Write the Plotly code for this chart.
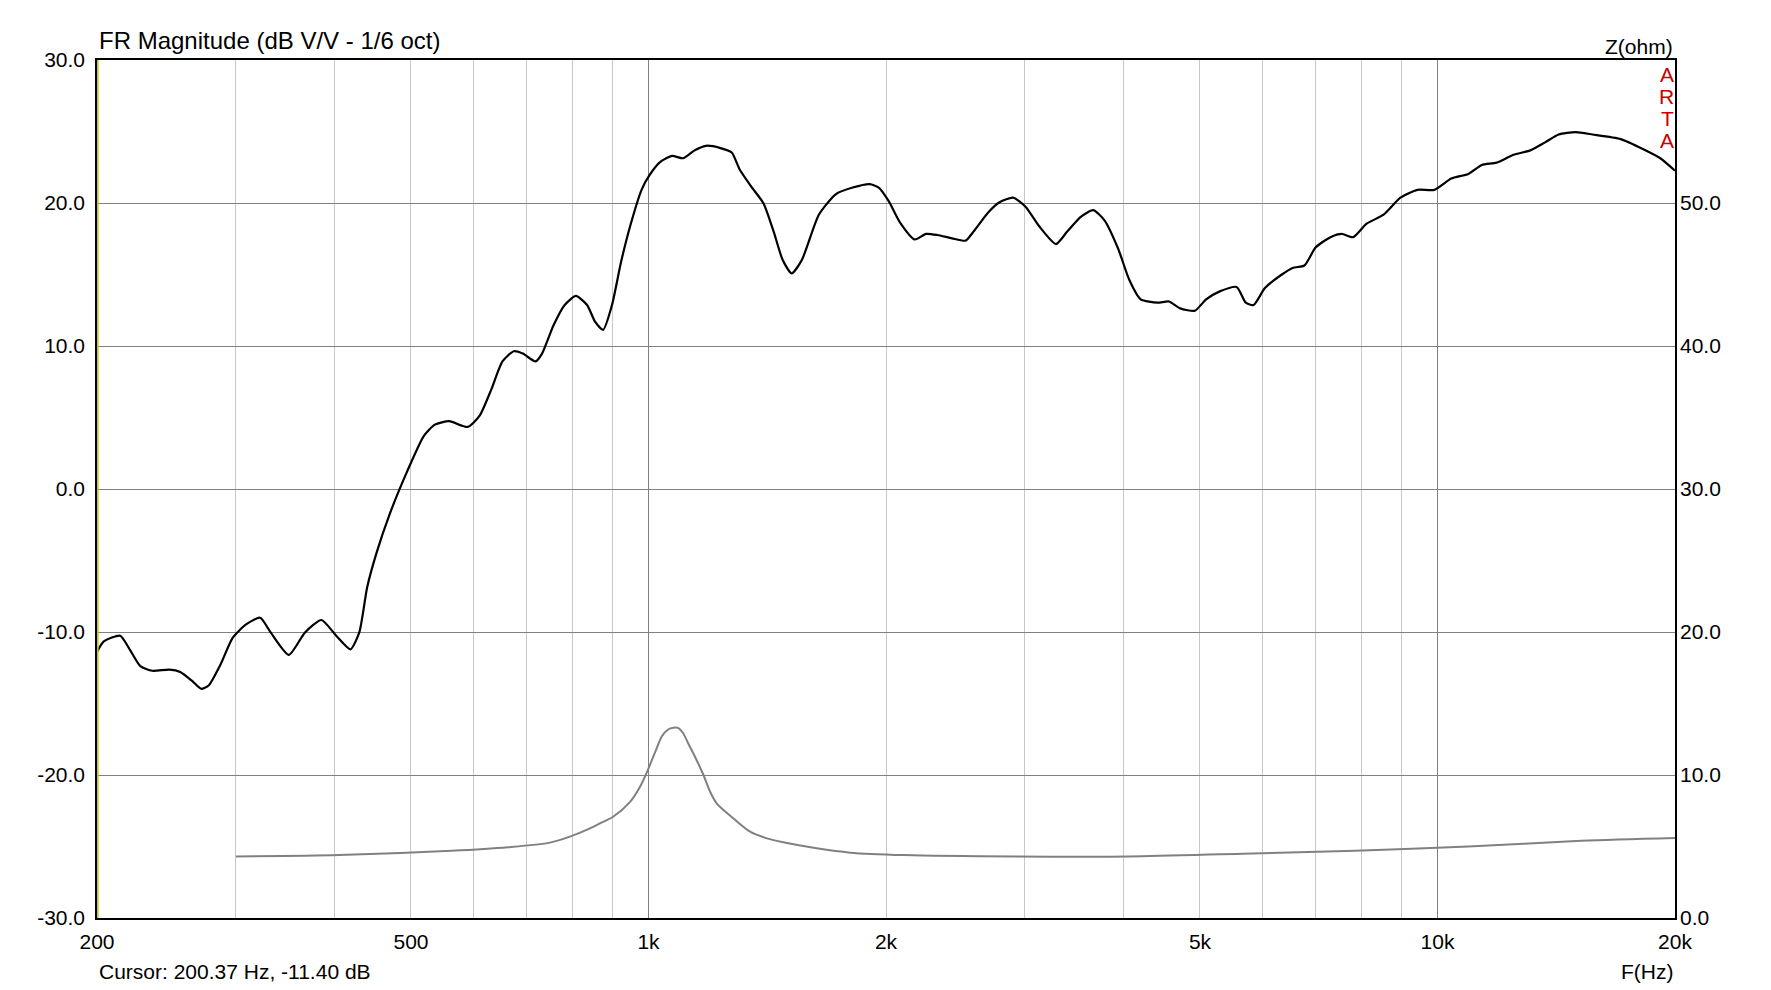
import math
import plotly.graph_objects as go

# ---------------- data ----------------
fr_freq = [200, 204, 214, 220, 227, 235, 247, 255, 264, 271, 277, 287, 297, 309, 322, 332,
           350, 367, 385, 402, 419, 430, 440, 452, 470, 494, 519, 536, 559, 590, 611, 632,
           653, 675, 693, 719, 733, 758, 783, 809, 836, 856, 876, 899, 923, 948, 980, 1003,
           1036, 1071, 1107, 1144, 1182, 1234, 1275, 1305, 1349, 1399, 1441, 1479, 1519, 1565,
           1644, 1727, 1815, 1907, 1958, 2016, 2084, 2175, 2248, 2323, 2425, 2523, 2582, 2695,
           2786, 2898, 3005, 3126, 3284, 3394, 3531, 3661, 3784, 3937, 4069, 4205, 4418, 4566,
           4719, 4926, 5091, 5297, 5565, 5714, 5847, 6043, 6350, 6562, 6782, 7010, 7317, 7562,
           7816, 8131, 8543, 8975, 9430, 9909, 10411, 10940, 11381, 11880, 12482, 13115, 13690,
           14242, 14964, 15723, 17068, 18236, 19158, 20000]
fr_db = [-11.40, -10.66, -10.26, -11.21, -12.39, -12.71, -12.63, -12.79, -13.42, -13.97, -13.74,
         -12.24, -10.42, -9.47, -9.00, -10.03, -11.60, -10.03, -9.16, -10.26, -11.21, -10.03,
         -6.87, -4.50, -1.74, 1.18, 3.70, 4.50, 4.74, 4.34, 5.13, 6.95, 8.92, 9.63, 9.47, 8.92,
         9.47, 11.45, 12.87, 13.50, 12.87, 11.68, 11.13, 12.87, 15.87, 18.39, 20.92, 21.95,
         22.89, 23.29, 23.13, 23.68, 24.00, 23.84, 23.53, 22.34, 21.16, 19.97, 18.00, 16.03,
         15.08, 16.03, 19.18, 20.61, 21.08, 21.32, 21.08, 20.13, 18.63, 17.45, 17.84, 17.76,
         17.53, 17.37, 18.00, 19.34, 20.05, 20.37, 19.74, 18.39, 17.13, 18.00, 19.03, 19.50,
         18.79, 16.82, 14.61, 13.26, 13.03, 13.11, 12.63, 12.47, 13.26, 13.82, 14.13, 13.03,
         12.87, 14.05, 15.00, 15.47, 15.63, 16.90, 17.61, 17.84, 17.61, 18.55, 19.18, 20.37,
         20.92, 20.92, 21.71, 22.03, 22.66, 22.82, 23.37, 23.68, 24.24, 24.79, 24.95, 24.79,
         24.47, 23.76, 23.13, 22.26]

z_freq = [300, 405, 563, 664, 750, 795, 843, 868, 902, 947, 976, 999, 1012, 1024, 1039, 1060,
          1075, 1090, 1107, 1123, 1140, 1174, 1197, 1220, 1281, 1345, 1413, 1482, 1634, 1801,
          2105, 2927, 4069, 5658, 7867, 10940, 15212, 20000]
z_ohm = [4.3, 4.4, 4.7, 4.95, 5.27, 5.69, 6.27, 6.62, 7.08, 8.1, 9.2, 10.4, 11.17, 11.85,
         12.68, 13.2, 13.31, 13.3, 12.9, 12.2, 11.5, 10.0, 8.83, 8.02, 6.97, 6.04, 5.57, 5.29,
         4.87, 4.57, 4.4, 4.3, 4.3, 4.5, 4.7, 5.0, 5.4, 5.6]

cursor_freq = 200.37
cursor_db = -11.40

x_grid_minor = [200, 300, 400, 500, 600, 700, 800, 900, 1000, 2000, 3000, 4000, 5000, 6000,
                7000, 8000, 9000, 10000, 20000]
x_label_map = {200: "200", 500: "500", 1000: "1k", 2000: "2k", 5000: "5k",
               10000: "10k", 20000: "20k"}
x_grid_major = [1000, 10000]
y_left_ticks = [-30, -20, -10, 0, 10, 20, 30]
y_right_ticks = [0, 10, 20, 30, 40, 50]

FONT = "Liberation Sans, Arial, sans-serif"
FS = 21

fig = go.Figure()

fig.add_trace(go.Scatter(x=z_freq, y=z_ohm, mode="lines", yaxis="y2",
                         line=dict(color="#808080", width=2, shape="spline", smoothing=0.8),
                         hoverinfo="skip", showlegend=False))
fig.add_trace(go.Scatter(x=fr_freq, y=fr_db, mode="lines",
                         line=dict(color="#000000", width=2.2, shape="spline", smoothing=0.6),
                         showlegend=False))
fig.add_trace(go.Scatter(x=[cursor_freq, cursor_freq], y=[-30, 30], mode="lines",
                         xaxis="x2", line=dict(color="#c8c800", width=2),
                         hoverinfo="skip", showlegend=False))

xr = [math.log10(200), math.log10(20000)]

fig.update_layout(
    width=1763, height=982,
    margin=dict(l=89, r=96, t=52, b=72),
    paper_bgcolor="white", plot_bgcolor="white",
    font=dict(family=FONT, size=FS, color="black"),
    xaxis=dict(type="log", range=xr, tickvals=x_grid_minor,
               ticktext=[x_label_map.get(v, "") for v in x_grid_minor],
               showgrid=True, gridcolor="#c8c8c8", gridwidth=1,
               ticks="", ticklabelstandoff=4,
               showline=True, linecolor="black", linewidth=1.5, mirror=True,
               zeroline=False),
    xaxis2=dict(type="log", range=xr, overlaying="x", tickvals=x_grid_major,
                showticklabels=False, showgrid=True, gridcolor="#808080", gridwidth=1,
                ticks="", showline=False, zeroline=False),
    yaxis=dict(range=[-30, 30], tickvals=y_left_ticks,
               ticktext=[f"{v:.1f}" for v in y_left_ticks],
               showgrid=True, gridcolor="#808080", gridwidth=1, zeroline=False,
               ticks="", ticklabelstandoff=6,
               showline=True, linecolor="black", linewidth=1.5, mirror=True),
    yaxis2=dict(range=[0, 60], overlaying="y", side="right", tickvals=y_right_ticks,
                ticktext=[f"{v:.1f}" for v in y_right_ticks],
                showgrid=False, zeroline=False, ticks="", ticklabelstandoff=4),
)

annotations = [
    dict(text="FR Magnitude (dB V/V - 1/6 oct)", xref="paper", yref="paper", x=0, y=1,
         xanchor="left", yanchor="bottom", yshift=4, showarrow=False,
         font=dict(family=FONT, size=24)),
    dict(text="Z(ohm)", xref="paper", yref="paper", x=1, y=1,
         xanchor="right", yanchor="bottom", yshift=0, showarrow=False,
         font=dict(family=FONT, size=FS)),
    dict(text=f"Cursor: {cursor_freq:.2f} Hz, {cursor_db:.2f} dB", xref="paper", yref="paper",
         x=0, y=0, xanchor="left", yanchor="top", yshift=-40, showarrow=False,
         font=dict(family=FONT, size=FS)),
    dict(text="F(Hz)", xref="paper", yref="paper", x=1, y=0,
         xanchor="right", yanchor="top", yshift=-40, showarrow=False,
         font=dict(family=FONT, size=FS)),
]
for i, ch in enumerate("ARTA"):
    annotations.append(dict(text=ch, xref="paper", yref="paper", x=1, y=1,
                            xanchor="right", yanchor="top", xshift=1, yshift=-1 - 22 * i,
                            showarrow=False,
                            font=dict(family=FONT, size=FS, color="#cc0000")))
fig.update_layout(annotations=annotations)

fig.write_html("out.html")
